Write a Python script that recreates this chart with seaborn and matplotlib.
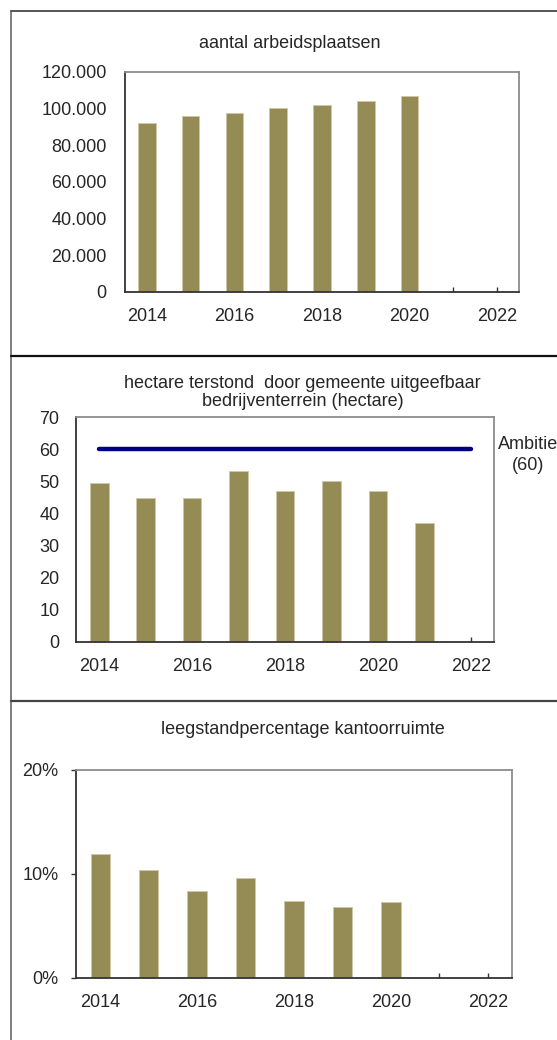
import numpy as np
import pandas as pd
import matplotlib
matplotlib.use("Agg")
import matplotlib.pyplot as plt
from matplotlib.lines import Line2D
from matplotlib.ticker import FuncFormatter, MultipleLocator
import seaborn as sns

# ---------------- data ----------------
years = [2014, 2015, 2016, 2017, 2018, 2019, 2020, 2021, 2022]

jobs_years = [2014, 2015, 2016, 2017, 2018, 2019, 2020]
jobs = [92200, 96200, 97500, 100200, 102200, 104000, 107000]

hectare_years = [2014, 2015, 2016, 2017, 2018, 2019, 2020, 2021]
hectare = [49.6, 44.7, 44.7, 53.3, 47.1, 50.0, 46.9, 36.9]
ambitie = 60

vacancy_years = [2014, 2015, 2016, 2017, 2018, 2019, 2020]
vacancy_pct = [11.9, 10.4, 8.4, 9.6, 7.4, 6.8, 7.35]

titles = ["aantal arbeidsplaatsen",
          "hectare terstond  door gemeente uitgeefbaar\nbedrijventerrein (hectare)",
          "leegstandpercentage kantoorruimte"]
ambitie_label = "Ambitie\n(60)"

# ---------------- style ----------------
sns.set_theme(style="white")
plt.rcParams['font.family'] = ['Liberation Sans', 'DejaVu Sans']
FS = 13
BAR = "#958B55"
W, H = 557, 1040
fig = plt.figure(figsize=(W / 100, H / 100), dpi=100)


def px_axes(l, r, t, b):
    return fig.add_axes([l / W, 1 - b / H, (r - l) / W, (b - t) / H])


def style_axes(ax, ypad, ytick_len=0):
    for s in ["left", "bottom"]:
        ax.spines[s].set_color("#333333")
        ax.spines[s].set_linewidth(1.3)
    for s in ["top", "right"]:
        ax.spines[s].set_color("#8c8c8c")
        ax.spines[s].set_linewidth(1.3)
    ax.set_xlim(-0.5, len(years) - 0.5)
    ax.set_xticks(range(len(years)))
    ax.set_xticklabels([str(y) if y % 2 == 0 else "" for y in years])
    ax.tick_params(axis="x", direction="in", length=3.5, width=1, color="#333333",
                   labelsize=FS, pad=11.5, bottom=True)
    ax.tick_params(axis="y", direction="out", length=ytick_len, width=1, color="#333333",
                   labelsize=FS, pad=ypad, left=True)
    ax.set_xlabel("")
    ax.set_ylabel("")
    ax.grid(False)


def bars(ax, xs, vals):
    df = pd.DataFrame({"year": xs, "val": vals})
    sns.barplot(data=df, x="year", y="val", order=years, color=BAR, saturation=1,
                width=0.4, edgecolor="#cfc7a6", linewidth=0.6, ax=ax)


# panel 1
ax1 = px_axes(125, 519, 72, 292)
bars(ax1, jobs_years, jobs)
ax1.set_ylim(0, 120000)
ax1.yaxis.set_major_locator(MultipleLocator(20000))
ax1.yaxis.set_major_formatter(FuncFormatter(lambda v, p: f"{int(v):,}".replace(",", ".")))
style_axes(ax1, ypad=13.2)

# panel 2
ax2 = px_axes(76, 494, 417, 642)
bars(ax2, hectare_years, hectare)
ax2.plot([0, len(years) - 1], [ambitie, ambitie], color="#000080", lw=3.2,
         solid_capstyle="round", zorder=5)
ax2.set_ylim(0, 70)
ax2.yaxis.set_major_locator(MultipleLocator(10))
style_axes(ax2, ypad=12)

# panel 3
ax3 = px_axes(76, 512, 770, 978)
bars(ax3, vacancy_years, vacancy_pct)
ax3.set_ylim(0, 20)
ax3.yaxis.set_major_locator(MultipleLocator(10))
ax3.yaxis.set_major_formatter(FuncFormatter(lambda v, p: f"{int(round(v))}%"))
style_axes(ax3, ypad=9, ytick_len=3.6)

# titles
fig.text(289.5 / W, 1 - 43 / H, titles[0], ha="center", va="center", fontsize=FS)
fig.text(302.6 / W, 1 - 392.5 / H, titles[1], ha="center", va="center", fontsize=FS,
         linespacing=1.15)
fig.text(302.6 / W, 1 - 729 / H, titles[2], ha="center", va="center", fontsize=FS)
fig.text(528 / W, 1 - 455 / H, ambitie_label, ha="center", va="center", fontsize=FS,
         linespacing=1.25)

# panel borders
def fline(x0, y0, x1, y1, color, lw):
    fig.add_artist(Line2D([x0 / W, x1 / W], [1 - y0 / H, 1 - y1 / H],
                          transform=fig.transFigure, color=color, lw=lw))

fline(11, 11, 11, H, "#7f7f7f", 1.4)
fline(11, 11, W, 11, "#555555", 1.4)
fline(11, 355.7, W, 355.7, "#111111", 1.6)
fline(11, 701, W, 701, "#444444", 1.6)

fig.savefig("out.png", dpi=100)
